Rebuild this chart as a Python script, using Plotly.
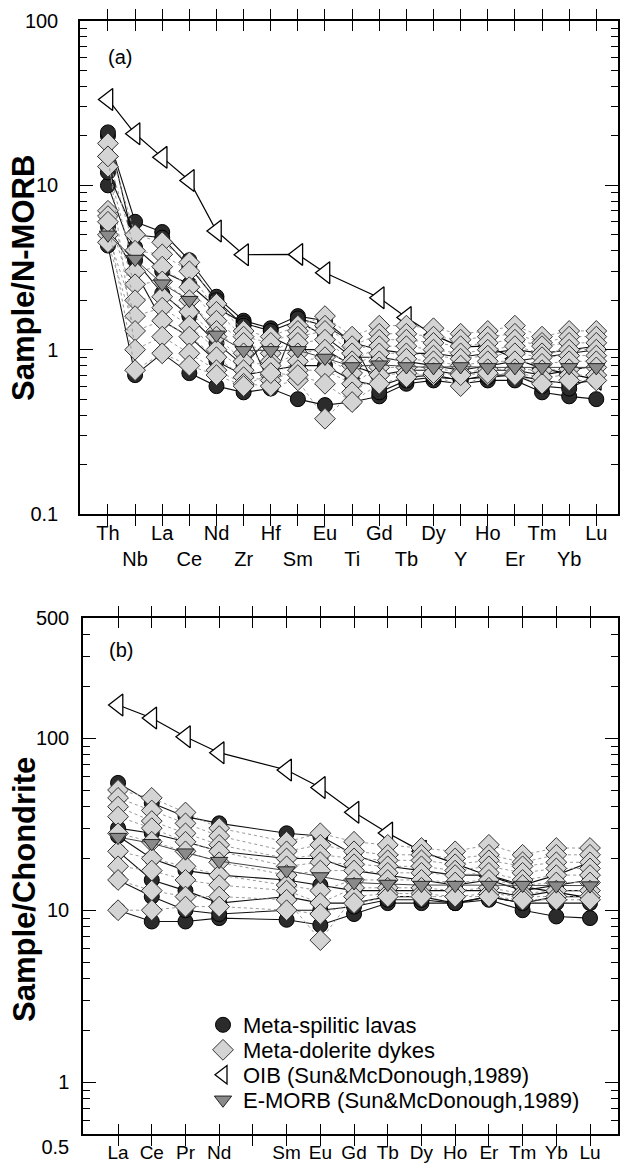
import plotly.graph_objects as go

W, H = 623, 1165

# ---------------- data ----------------
elements_a = ["Th", "Nb", "La", "Ce", "Nd", "Zr", "Hf", "Sm", "Eu", "Ti",
              "Gd", "Tb", "Dy", "Y", "Ho", "Er", "Tm", "Yb", "Lu"]
elements_b = ["La", "Ce", "Pr", "Nd", "Pm", "Sm", "Eu", "Gd", "Tb", "Dy",
              "Ho", "Er", "Tm", "Yb", "Lu"]

# (a) N-MORB normalised
oib_a = [33.3, 20.6, 14.8, 10.7, 5.27, 3.78, None, 3.80, 2.94, None,
         2.07, 1.57, 1.23, 1.04, 1.05, 0.88, 0.77, 0.71, 0.66]
emorb_a = [5.0, 3.56, 2.52, 2.0, 1.23, 0.99, 0.99, 0.99, 0.89, 0.79,
           0.81, 0.79, 0.78, 0.79, 0.78, 0.78, 0.78, 0.78, 0.78]

lava_a_1 = [20, 6.0, 5.2, 3.5, 2.1, 1.5, 1.35, 1.6, 1.5, 1.1, 1.0, 0.95, 0.95, 0.9, 0.95, 1.0, 0.95, 1.0, 1.05]
lava_a_2 = [21, 4.2, 3.0, 2.5, 1.8, 1.45, 1.3, 1.5, 1.2, 0.9, 0.9, 0.85, 0.8, 0.75, 0.8, 0.85, 0.9, 0.95, 1.0]
lava_a_3 = [10, 3.5, 2.2, 1.6, 1.1, 0.8, 1.2, 1.0, 1.0, 0.8, 0.7, 0.75, 0.75, 0.7, 0.75, 0.75, 0.7, 0.75, 0.8]
lava_a_4 = [5.6, 3.0, 1.5, 1.2, 0.85, 0.7, 0.75, 0.8, 0.8, 0.65, 0.6, 0.68, 0.7, 0.65, 0.7, 0.7, 0.65, 0.62, 0.65]
lava_a_5 = [4.3, 0.7, 0.95, 0.72, 0.6, 0.55, 0.58, 0.5, 0.46, 0.48, 0.52, 0.62, 0.65, 0.62, 0.65, 0.65, 0.55, 0.52, 0.5]
lava_a_6 = [12, 5.0, 4.8, 3.2, 2.0, 1.4, 0.6, 1.55, 1.4, 1.12, 0.55, 0.65, 0.68, 0.66, 0.68, 0.7, 0.6, 0.58, 0.7]

dyke_a_1 = [18, 5.0, 4.5, 3.4, 1.9, 1.3, 1.2, 1.4, 1.6, 1.2, 1.4, 1.4, 1.35, 1.25, 1.3, 1.4, 1.2, 1.3, 1.3]
dyke_a_2 = [15, 4.0, 3.8, 3.0, 1.7, 1.2, 1.1, 1.3, 1.4, 1.05, 1.25, 1.25, 1.2, 1.15, 1.2, 1.25, 1.1, 1.2, 1.2]
dyke_a_3 = [13, 3.0, 3.2, 2.4, 1.5, 1.1, 0.95, 1.2, 1.3, 0.95, 1.15, 1.15, 1.1, 1.05, 1.1, 1.15, 1.05, 1.1, 1.1]
dyke_a_4 = [7.0, 2.5, 2.6, 2.0, 1.3, 0.95, 0.85, 1.1, 1.15, 0.85, 1.05, 1.05, 1.0, 0.95, 1.0, 1.05, 0.95, 1.0, 1.0]
dyke_a_5 = [6.5, 2.0, 2.1, 1.7, 1.2, 0.85, 0.8, 0.95, 1.0, 0.8, 0.95, 0.95, 0.92, 0.88, 0.92, 0.95, 0.9, 0.92, 0.92]
dyke_a_6 = [5.0, 1.6, 1.8, 1.4, 1.0, 0.75, 0.7, 0.85, 0.9, 0.72, 0.85, 0.88, 0.85, 0.8, 0.85, 0.85, 0.82, 0.85, 0.85]
dyke_a_7 = [4.5, 1.3, 1.5, 1.2, 0.9, 0.68, 0.65, 0.75, 0.75, 0.62, 0.78, 0.78, 0.78, 0.72, 0.76, 0.76, 0.75, 0.76, 0.78]
dyke_a_8 = [15, 1.0, 1.2, 0.95, 0.75, 0.62, 0.6, 0.65, 0.38, 0.55, 0.7, 0.72, 0.7, 0.6, 0.7, 0.72, 0.68, 0.7, 0.7]
dyke_a_9 = [6.0, 0.75, 0.95, 0.8, 0.7, 0.6, 0.72, 0.7, 0.62, 0.48, 0.62, 0.68, 0.72, 0.7, 0.72, 0.7, 0.62, 0.65, 0.65]

# (b) Chondrite normalised
oib_b = [156, 131, 102, 82.4, None, 65.4, 51.7, 37.1, 28.1, 22.0, 18.7, 15.8, 13.7, 12.7, 11.8]
emorb_b = [26.6, 24.5, 21.6, 19.3, None, 17.0, 15.7, 14.5, 14.2, 14.0, 14.0, 14.0, 14.0, 13.9, 13.9]

lava_b_1 = [55, 42, 35, 32, None, 28, 27, 21, 18, 17, 16, 16, 14, 16, 19]
lava_b_2 = [30, 28, 25, 22, None, 20, 20, 17, 16, 15, 14, 15, 13, 14, 15]
lava_b_3 = [27, 20, 17, 16, None, 15, 14, 13, 13, 13, 13, 13, 12, 13, 13]
lava_b_4 = [22, 15, 13, 11, None, 12, 11, 11, 12, 12, 11, 12, 11, 11, 11]
lava_b_5 = [10, 8.6, 8.6, 9.0, None, 8.8, 8.2, 9.5, 11, 11, 11, 11.5, 10, 9.2, 9.0]
lava_b_6 = [15, 12, 10, 9.5, None, 10, 10, 10.5, 11.5, 11.5, 11, 12, 11, 12, 12]

dyke_b_1 = [50, 45, 37, 30, None, 25, 28, 25, 24, 23, 22, 24, 21, 23, 23]
dyke_b_2 = [45, 38, 32, 27, None, 22, 24, 22, 21, 21, 20, 21, 19, 21, 21]
dyke_b_3 = [40, 33, 28, 24, None, 20, 21, 20, 19.5, 19.5, 18.5, 19.5, 18, 19, 19]
dyke_b_4 = [35, 30, 25, 22, None, 18, 19, 18.5, 18, 18, 17, 18, 16.5, 17.5, 17.5]
dyke_b_5 = [28, 25, 22, 19, None, 16, 17, 17, 16.5, 16.5, 16, 16.5, 15, 16, 16]
dyke_b_6 = [22, 20, 18, 16, None, 14, 13, 15, 15, 15, 14.5, 15, 14, 14.5, 14.5]
dyke_b_7 = [18, 17, 15, 14, None, 13, 11, 13.5, 13.5, 13.5, 13, 13.5, 12.5, 13, 13]
dyke_b_8 = [15, 13, 12, 12, None, 11.5, 6.7, 12, 12.5, 12.5, 12, 12.5, 12, 12, 12]
dyke_b_9 = [10, 10, 10.5, 10.5, None, 10, 9.5, 11, 12, 12, 12, 12, 11.5, 11.5, 11.5]

lavas_a = [lava_a_1, lava_a_2, lava_a_3, lava_a_4, lava_a_5, lava_a_6]
dykes_a = [dyke_a_1, dyke_a_2, dyke_a_3, dyke_a_4, dyke_a_5, dyke_a_6, dyke_a_7, dyke_a_8, dyke_a_9]
lavas_b = [lava_b_1, lava_b_2, lava_b_3, lava_b_4, lava_b_5, lava_b_6]
dykes_b = [dyke_b_1, dyke_b_2, dyke_b_3, dyke_b_4, dyke_b_5, dyke_b_6, dyke_b_7, dyke_b_8, dyke_b_9]

legend_names = ["Meta-spilitic lavas", "Meta-dolerite dykes",
                "OIB (Sun&McDonough,1989)", "E-MORB (Sun&McDonough,1989)"]

# ---------------- styles ----------------
FONT = "Liberation Sans, Arial, Helvetica, sans-serif"
lava_marker = dict(symbol="circle", size=15, color="#2b2b2b", line=dict(color="black", width=1))
dyke_marker = dict(symbol="diamond", size=16, color="#d4d4d4", line=dict(color="#333333", width=1))
oib_marker = dict(symbol="triangle-left", size=19, color="white", line=dict(color="black", width=1.3))
emorb_marker = dict(symbol="triangle-down", size=15, color="#8a8a8a", line=dict(color="#222222", width=1))

fig = go.Figure()


def add_panel(elems, oib, emorb, lavas, dykes, xa, ya, ya_minor):
    xs = list(range(len(elems)))
    # invisible helper so the minor-tick overlay axis is always drawn
    fig.add_trace(go.Scatter(x=xs, y=emorb, mode="none", hoverinfo="skip",
                             showlegend=False, xaxis=xa, yaxis=ya_minor))
    fig.add_trace(go.Scatter(x=xs, y=oib, mode="lines+markers", connectgaps=True,
                             line=dict(color="black", width=1.2), marker=oib_marker,
                             showlegend=False, xaxis=xa, yaxis=ya))
    for s in lavas:
        fig.add_trace(go.Scatter(x=xs, y=s, mode="lines+markers", connectgaps=True,
                                 line=dict(color="#111111", width=1.1), marker=lava_marker,
                                 showlegend=False, xaxis=xa, yaxis=ya))
    for s in dykes:
        fig.add_trace(go.Scatter(x=xs, y=s, mode="lines+markers", connectgaps=True,
                                 line=dict(color="#9a9a9a", width=1, dash="dot"), marker=dyke_marker,
                                 showlegend=False, xaxis=xa, yaxis=ya))
    fig.add_trace(go.Scatter(x=xs, y=emorb, mode="lines+markers", connectgaps=True,
                             line=dict(color="#444444", width=1), marker=emorb_marker,
                             showlegend=False, xaxis=xa, yaxis=ya))


add_panel(elements_a, oib_a, emorb_a, lavas_a, dykes_a, "x", "y", "y3")
add_panel(elements_b, oib_b, emorb_b, lavas_b, dykes_b, "x2", "y2", "y4")

# legend-only entries, one legend each so the row spacing can follow the original
legend_ids = ["legend", "legend2", "legend3", "legend4"]
for name, mk, lid in zip(legend_names, [lava_marker, dyke_marker, oib_marker, emorb_marker], legend_ids):
    fig.add_trace(go.Scatter(x=[None], y=[None], mode="markers", name=name, marker=mk,
                             showlegend=True, legend=lid, xaxis="x2", yaxis="y2"))


def px(x):
    return x / W


def py(y):
    return 1 - y / H


def minor_vals(lo_exp, hi_exp):
    out = []
    for e in range(lo_exp, hi_exp + 1):
        for d in range(2, 10):
            out.append(d * 10 ** e)
    return out


tick_font = dict(family=FONT, size=20, color="black")
axis_common = dict(showline=True, linecolor="black", linewidth=1.5, mirror="allticks",
                   ticks="inside", tickcolor="black", tickwidth=1.3, showgrid=False,
                   zeroline=False, automargin=False)

ticktext_a = [e if i % 2 == 0 else "<br>" + e for i, e in enumerate(elements_a)]
ticktext_b = ["" if e == "Pm" else e for e in elements_b]

range_a = [-1, 2]
range_b = [-0.30103, 2.69897]

legend_rows_y = [1025, 1050, 1075, 1100]
legend_layout = {}
for lid, yrow in zip(legend_ids, legend_rows_y):
    legend_layout[lid] = dict(x=px(203), y=py(yrow), xanchor="left", yanchor="middle",
                              font=dict(family=FONT, size=22, color="black"),
                              bgcolor="rgba(0,0,0,0)", borderwidth=0, itemsizing="trace")

minor_axis = dict(showline=False, ticks="inside", ticklen=7, tickwidth=1.3, tickcolor="black",
                  mirror="ticks", showticklabels=False, showgrid=False, zeroline=False,
                  type="log", tickmode="array", side="left", autorange=False, automargin=False)

fig.update_layout(
    width=W, height=H, margin=dict(l=0, r=0, t=0, b=0, autoexpand=False),
    paper_bgcolor="white", plot_bgcolor="white",
    font=dict(family=FONT, color="black"),
    hovermode=False,
    xaxis=dict(domain=[px(80), px(618)], anchor="y", range=[-1.03, 18.8],
               tickmode="array", tickvals=list(range(len(elements_a))), ticktext=ticktext_a,
               tickangle=0, ticklen=10, ticklabelstandoff=0, tickfont=tick_font, **axis_common),
    yaxis=dict(domain=[py(514), py(21)], anchor="x", type="log", range=range_a,
               tickmode="array", tickvals=[0.1, 1, 10, 100], ticktext=["0.1", "1", "10", "100"],
               ticklen=13, ticklabelstandoff=16, tickfont=tick_font, **axis_common),
    yaxis3=dict(domain=[py(514), py(21)], anchor="x", overlaying="y", range=range_a,
                tickvals=minor_vals(-1, 1), **minor_axis),
    xaxis2=dict(domain=[px(83), px(618)], anchor="y2", range=[-1.04, 14.83],
                tickmode="array", tickvals=list(range(len(elements_b))), ticktext=ticktext_b,
                tickangle=0, ticklen=10, ticklabelstandoff=0,
                tickfont=dict(family=FONT, size=19, color="black"), **axis_common),
    yaxis2=dict(domain=[py(1134), py(618)], anchor="x2", type="log", range=range_b,
                tickmode="array", tickvals=[0.5, 1, 10, 100, 500],
                ticktext=["<br>0.5", "1", "10", "100", "500"],
                ticklen=13, ticklabelstandoff=8, tickfont=tick_font, **axis_common),
    yaxis4=dict(domain=[py(1134), py(618)], anchor="x2", overlaying="y2", range=range_b,
                tickvals=minor_vals(-1, 2), **minor_axis),
    annotations=[
        dict(text="<b>Sample/N-MORB</b>", x=px(24), y=py(278), xref="paper", yref="paper",
             xanchor="center", yanchor="middle",
             textangle=-90, showarrow=False, font=dict(family=FONT, size=31, color="black")),
        dict(text="<b>Sample/Chondrite</b>", x=px(24), y=py(890), xref="paper", yref="paper",
             xanchor="center", yanchor="middle",
             textangle=-90, showarrow=False, font=dict(family=FONT, size=31, color="black")),
        dict(text="(a)", x=px(120), y=py(57), xref="paper", yref="paper", showarrow=False,
             xanchor="center", yanchor="middle",
             font=dict(family=FONT, size=20, color="black")),
        dict(text="(b)", x=px(121), y=py(650), xref="paper", yref="paper", showarrow=False,
             xanchor="center", yanchor="middle",
             font=dict(family=FONT, size=20, color="black")),
    ],
    **legend_layout,
)

fig.write_html("out.html")
